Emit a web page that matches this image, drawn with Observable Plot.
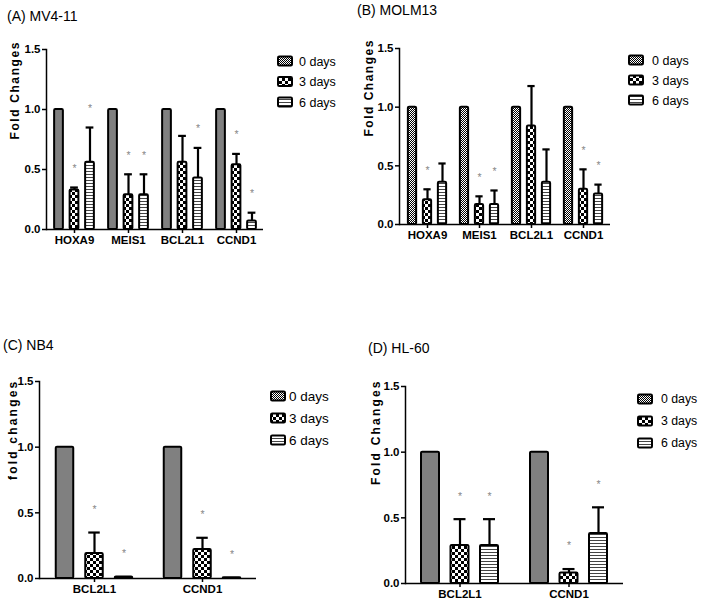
<!DOCTYPE html>
<html><head><meta charset="utf-8">
<script src="https://cdn.jsdelivr.net/npm/d3@7"></script>
<script src="https://cdn.jsdelivr.net/npm/@observablehq/plot@0.6"></script>
<style>
body{margin:0;background:#fff;}
#fig{position:relative;width:701px;height:606px;background:#fff;overflow:hidden;font-family:"Liberation Sans",Arial,sans-serif;}
.panel{position:absolute;}
.title{position:absolute;font-family:"Liberation Sans Narrow","Liberation Sans",Arial,sans-serif;font-size:14px;white-space:nowrap;line-height:14px;color:#000;}
#legend{position:absolute;left:0;top:0;}
</style></head><body>
<svg width="0" height="0" style="position:absolute">
<defs>
<pattern id="p0" width="2" height="2" patternUnits="userSpaceOnUse"><rect width="2" height="2" fill="#fff"/><rect width="1" height="1" fill="#000"/><rect x="1" y="1" width="1" height="1" fill="#000"/></pattern>
<pattern id="p1" width="6" height="6" patternUnits="userSpaceOnUse"><rect width="6" height="6" fill="#fff"/><rect width="3" height="3" fill="#000"/><rect x="3" y="3" width="3" height="3" fill="#000"/></pattern>
<pattern id="p2" width="3" height="3" patternUnits="userSpaceOnUse"><rect width="3" height="3" fill="#fff"/><rect width="3" height="1" fill="#444"/></pattern>
</defs></svg>
<div id="fig"></div>
<script>
// ---------- data ----------
const seriesLabels = ["0 days", "3 days", "6 days"];

// (A) MV4-11
const aGenes = ["HOXA9", "MEIS1", "BCL2L1", "CCND1"];
const aDay0 = [1, 1, 1, 1];
const aDay3 = [0.33, 0.29, 0.56, 0.54];
const aDay3Err = [0.35, 0.46, 0.78, 0.63];
const aDay3Sig = [true, true, false, true];
const aDay6 = [0.56, 0.29, 0.43, 0.07];
const aDay6Err = [0.85, 0.46, 0.68, 0.14];
const aDay6Sig = [true, true, true, true];

// (B) MOLM13
const bGenes = ["HOXA9", "MEIS1", "BCL2L1", "CCND1"];
const bDay0 = [1, 1, 1, 1];
const bDay3 = [0.21, 0.17, 0.84, 0.30];
const bDay3Err = [0.30, 0.24, 1.18, 0.47];
const bDay3Sig = [true, true, false, true];
const bDay6 = [0.36, 0.17, 0.36, 0.26];
const bDay6Err = [0.52, 0.29, 0.64, 0.34];
const bDay6Sig = [false, true, false, true];

// (C) NB4
const cGenes = ["BCL2L1", "CCND1"];
const cDay0 = [1, 1];
const cDay3 = [0.19, 0.22];
const cDay3Err = [0.35, 0.31];
const cDay3Sig = [true, true];
const cDay6 = [0.012, 0.006];
const cDay6Err = [null, null];
const cDay6Sig = [true, true];

// (D) HL-60
const dGenes = ["BCL2L1", "CCND1"];
const dDay0 = [1, 1];
const dDay3 = [0.29, 0.08];
const dDay3Err = [0.49, 0.11];
const dDay3Sig = [true, true];
const dDay6 = [0.29, 0.38];
const dDay6Err = [0.49, 0.58];
const dDay6Sig = [true, true];

const yTicks = [0, 0.5, 1.0, 1.5];

// ---------- layout ----------
const panels = [
  {title:"(A) MV4-11", ylabel:"Fold Changes", genes:aGenes, d0:aDay0, d3:aDay3, d3e:aDay3Err, d3s:aDay3Sig, d6:aDay6, d6e:aDay6Err, d6s:aDay6Sig,
   left:0, top:0, width:350, height:250, mL:46, mT:49, mB:21, mR:87, ylabelX:15, ls:1.6, off:15.5, barW:9, capW:8, starDy:-19,
   titleX:7, titleY:16, leg:{x:277, ys:[61,81.5,102], tx:299, fs:12.5}},
  {title:"(B) MOLM13", ylabel:"Fold Changes", genes:bGenes, d0:bDay0, d3:bDay3, d3e:bDay3Err, d3s:bDay3Sig, d6:bDay6, d6e:bDay6Err, d6s:bDay6Sig,
   left:350, top:0, width:351, height:250, mL:49, mT:48, mB:26, mR:91, ylabelX:19, ls:1.5, off:15, barW:9, capW:8, starDy:-19,
   titleX:7, titleY:10, leg:{x:628, ys:[60,80,100], tx:652, fs:12.5}},
  {title:"(C) NB4", ylabel:"fold changes", genes:cGenes, d0:cDay0, d3:cDay3, d3e:cDay3Err, d3s:cDay3Sig, d6:cDay6, d6e:cDay6Err, d6s:cDay6Sig,
   left:0, top:300, width:350, height:306, mL:39, mT:81, mB:28, mR:94, ylabelX:13, ls:2.2, off:29.5, barW:18, capW:12, starDy:-23,
   titleX:3, titleY:45, leg:{x:270, ys:[396,418,440], tx:289, fs:13.5}},
  {title:"(D) HL-60", ylabel:"Fold Changes", genes:dGenes, d0:dDay0, d3:dDay3, d3e:dDay3Err, d3s:dDay3Sig, d6:dDay6, d6e:dDay6Err, d6s:dDay6Sig,
   left:350, top:300, width:351, height:306, mL:55, mT:86, mB:23, mR:78, ylabelX:26, ls:2.2, off:29.5, barW:18, capW:12, starDy:-23,
   titleX:18, titleY:48, leg:{x:637, ys:[399,421,443], tx:661, fs:12.3}}
];

const fig = document.getElementById("fig");

function makePanel(p) {
  const rows = [];
  p.genes.forEach((g, i) => {
    rows.push({gene:g, s:0, v:p.d0[i], err:null, sig:false});
    rows.push({gene:g, s:1, v:p.d3[i], err:p.d3e[i], sig:p.d3s[i]});
    rows.push({gene:g, s:2, v:p.d6[i], err:p.d6e[i], sig:p.d6s[i]});
  });
  const bw = (p.width - p.mL - p.mR) / p.genes.length;
  const barInset = (bw - p.barW) / 2;
  const capInset = (bw - p.capW) / 2;
  const marks = [];
  [0, 1, 2].forEach(s => {
    const data = rows.filter(r => r.s === s);
    const dx = (s - 1) * p.off;
    marks.push(Plot.barY(data, {x:"gene", y:"v", fill:`url(#p${s})`, stroke:"black", strokeWidth:2, insetLeft:barInset, insetRight:barInset, dx, rx:1.2}));
    const e = data.filter(r => r.err != null);
    marks.push(Plot.ruleX(e, {x:"gene", y1:"v", y2:"err", dx, stroke:"black", strokeWidth:2.2}));
    marks.push(Plot.tickY(e, {x:"gene", y:"err", dx, insetLeft:capInset, insetRight:capInset, stroke:"black", strokeWidth:2.2}));
    marks.push(Plot.text(data.filter(r => r.sig), {x:"gene", y:r => (r.err != null ? r.err : r.v), text:() => "*", dx, dy:p.starDy, fill:"#888", fontSize:10.5}));
  });
  marks.push(Plot.frame({anchor:"left", stroke:"black", strokeWidth:1.5}));
  marks.push(Plot.ruleY([0], {stroke:"black", strokeWidth:1.5}));
  marks.push(Plot.axisY(yTicks, {tickFormat:d => d.toFixed(1), tickSize:4, tickPadding:2, fontWeight:"bold", strokeWidth:1.5, label:null}));
  marks.push(Plot.axisX({tickSize:4, tickPadding:2, fontWeight:"bold", strokeWidth:1.5, label:null}));
  marks.push(Plot.text([p.ylabel], {text:d => d, frameAnchor:"left", dx:p.ylabelX - p.mL, rotate:-90, fontWeight:"bold"}));

  const chart = Plot.plot({
    width:p.width, height:p.height,
    marginLeft:p.mL, marginRight:p.mR, marginTop:p.mT, marginBottom:p.mB,
    style:{fontFamily:"'Liberation Sans', Arial, sans-serif", color:"black", background:"transparent"},
    x:{domain:p.genes, padding:0},
    y:{domain:[0, 1.5]},
    marks
  });
  const svg = d3.select(chart);
  const tickLabels = new Set([...p.genes, ...yTicks.map(d => d.toFixed(1))]);
  svg.selectAll("text").filter(function() { return tickLabels.has(this.textContent); })
    .style("font-size", "11.5px").style("font-weight", "bold");
  svg.selectAll("text").filter(function() { return this.textContent === p.ylabel; })
    .style("font-size", "12px").style("font-weight", "bold").style("letter-spacing", p.ls + "px");

  const div = document.createElement("div");
  div.className = "panel";
  div.style.left = p.left + "px";
  div.style.top = p.top + "px";
  div.appendChild(chart);
  fig.appendChild(div);

  const t = document.createElement("div");
  t.className = "title";
  t.textContent = p.title;
  t.style.left = (p.left + p.titleX) + "px";
  t.style.top = (p.top + p.titleY - 7) + "px";
  fig.appendChild(t);
}

panels.forEach(makePanel);

// legends
const leg = d3.select(fig).append("svg").attr("id", "legend").attr("width", 701).attr("height", 606);
panels.forEach(p => {
  seriesLabels.forEach((lab, s) => {
    const cy = p.leg.ys[s];
    leg.append("rect").attr("x", p.leg.x + 1).attr("y", cy - 4.5).attr("width", 14).attr("height", 9)
      .attr("rx", 1.2).attr("fill", `url(#p${s})`).attr("stroke", "black").attr("stroke-width", 2);
    leg.append("text").attr("x", p.leg.tx).attr("y", cy).attr("dy", "0.36em")
      .attr("font-size", p.leg.fs).attr("font-family", "'Liberation Sans', Arial, sans-serif").text(lab);
  });
});
</script>
</body></html>
